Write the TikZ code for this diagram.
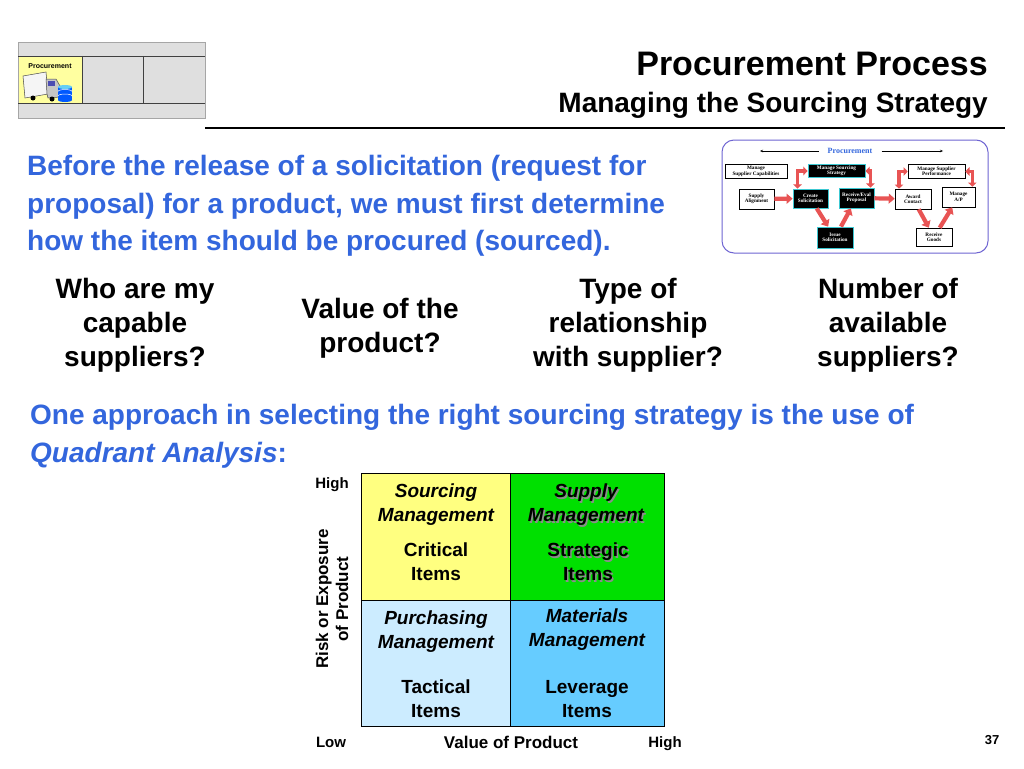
\documentclass[tikz,border=0pt]{standalone}
\usepackage{fontspec}
\setmainfont{Liberation Sans}
\newfontfamily\seriffont{Liberation Serif}
\usetikzlibrary{arrows.meta}
\definecolor{tblue}{RGB}{51,102,221}
\definecolor{qyellow}{RGB}{255,255,128}
\definecolor{qgreen}{RGB}{0,224,0}
\definecolor{qlblue}{RGB}{204,236,255}
\definecolor{qblue}{RGB}{102,204,255}
\definecolor{logoyellow}{RGB}{255,255,160}
\definecolor{frameblue}{RGB}{110,100,210}
\definecolor{arrred}{RGB}{232,84,84}
\definecolor{boxcyan}{RGB}{60,200,210}
\newcommand\fsz[2]{\fontsize{#1}{#2}\selectfont}
\tikzset{
  ptext/.style={anchor=base west, text=tblue, font=\bfseries\fsz{28}{34}, inner sep=0},
  qtext/.style={font=\bfseries\fsz{28}{34}, align=center, inner sep=0},
  quad/.style={draw=black, line width=1.2, minimum width=149, minimum height=127, inner sep=0, anchor=north west},
  qt/.style={font=\bfseries\fsz{19}{24}, align=center, inner sep=0},
  qti/.style={font=\bfseries\itshape\fsz{19}{24}, align=center, inner sep=0},
  shad/.style={text=black!45},
  axl/.style={font=\bfseries\fsz{15}{18}, inner sep=0, anchor=base},
  wbox/.style={draw=black, fill=white, line width=0.6, font=\seriffont\bfseries\fsz{5.2}{5.4}, align=center, inner sep=0.4},
  bbox/.style={draw=boxcyan, fill=black, text=white, line width=0.8, font=\seriffont\bfseries\fsz{5.2}{5.4}, align=center, inner sep=0.4},
  redarrow/.style={draw=arrred, line width=4.2, -{Triangle[width=10,length=6]}},
  relbow/.style={draw=arrred, line width=3.4, {Triangle[width=8.5,length=4.2]}-{Triangle[width=8.5,length=4.2]}},
}
\begin{document}
\begin{tikzpicture}[x=1pt,y=-1pt]
\useasboundingbox[fill=white] (0,0) rectangle (1024,768);

% ---------- logo ----------
\fill[gray!25] (18,42) rectangle (205,118);
\draw[gray!70, line width=0.8] (18,42) rectangle (205,118);
\fill[logoyellow] (19,56) rectangle (82,103);
\draw[black!75, line width=0.8] (18,56) -- (205,56) (18,103) -- (205,103) (82,56) -- (82,103) (143,56) -- (143,103);
\node[font=\bfseries\fsz{7}{8}, inner sep=0] (logot) at (50,66) {Procurement};
% truck
\draw[fill=gray!8, draw=gray!60!black, line width=0.5] (23,76) -- (46,72) -- (48,94) -- (25,98) -- cycle;
\draw[fill=gray!45, draw=gray!60!black, line width=0.5] (46,79) -- (56,79) -- (60,86) -- (60,97) -- (48,98) -- (47,94) -- cycle;
\fill[blue!40!gray] (48,81) rectangle (55,86);
\fill[black] (33,98) circle (2.5) (52,99) circle (2.5);
% database
\fill[blue!65!cyan] (58,87) rectangle (72,100);
\fill[blue!65!cyan] (65,100) ellipse (7 and 2);
\draw[white, line width=0.5] (58,91.5) arc (180:360:7 and 2) (58,96) arc (180:360:7 and 2);
\fill[cyan!60] (65,87) ellipse (7 and 2);

% ---------- title ----------
\node[anchor=base east, font=\bfseries\fsz{34}{40}, inner sep=0] (t1) at (988,75) {Procurement Process};
\node[anchor=base east, font=\bfseries\fsz{28}{34}, inner sep=0] (t2) at (988,112) {Managing the Sourcing Strategy};
\draw[line width=1.3] (205,128) -- (1005,128);

% ---------- paragraph ----------
\node[ptext] (p1) at (27,175) {Before the release of a solicitation (request for};
\node[ptext] (p2) at (27,213) {proposal) for a product, we must first determine};
\node[ptext] (p3) at (27,250) {how the item should be procured (sourced).};

% ---------- questions ----------
\node[qtext] (q1) at (135,325) {Who are my\\capable\\suppliers?};
\node[qtext] (q2) at (380,328) {Value of the\\product?};
\node[qtext] (q3) at (628,325) {Type of\\relationship\\with supplier?};
\node[qtext] (q4) at (888,325) {Number of\\available\\suppliers?};

\node[ptext] (o1) at (30,424) {One approach in selecting the right sourcing strategy is the use of};
\node[ptext] (o2) at (30,462) {{\itshape Quadrant Analysis}:};

% ---------- quadrant ----------
\node[quad, fill=qyellow] (tl) at (361,473) {};
\node[quad, fill=qgreen, minimum width=154] (tr) at (510,473) {};
\node[quad, fill=qlblue, minimum height=126] (bl) at (361,600) {};
\node[quad, fill=qblue, minimum width=154, minimum height=126] (br) at (510,600) {};

\node[qti] (tlh) at (436,505) {Sourcing\\Management};
\node[qt] (tli) at (436,562) {Critical\\Items};
\node[qti, shad] (trhs) at (587.5,506.5) {Supply\\Management};
\node[qti] (trh) at (586,505) {Supply\\Management};
\node[qt, shad] (tris) at (589.5,563.5) {Strategic\\Items};
\node[qt] (tri) at (588,562) {Strategic\\Items};
\node[qti] (blh) at (436,632) {Purchasing\\Management};
\node[qt] (bli) at (436,699) {Tactical\\Items};
\node[qti] (brh) at (587,630) {Materials\\Management};
\node[qt] (bri) at (587,699) {Leverage\\Items};

\node[axl] (hi1) at (332,488) {High};
\node[axl] (lo) at (331,747) {Low};
\node[axl, font=\bfseries\fsz{17}{20}] (vp) at (511,748) {Value of Product};
\node[axl] (hi2) at (665,747) {High};
\node[font=\bfseries\fsz{17}{20}, inner sep=0, align=center, rotate=90] (risk) at (332,599) {Risk or Exposure\\of Product};

\node[font=\bfseries\fsz{13}{15}, inner sep=0] (pg) at (992,740) {37};

% ---------- mini procurement diagram ----------
\draw[frameblue, line width=1, rounded corners=12] (722,140) rectangle (988,253);
\node[font=\seriffont\bfseries\fsz{8}{9}, text=tblue, inner sep=1] (ph) at (850,151) {Procurement};
\coordinate (pl) at (760,151);
\coordinate (pr) at (943,151);
\draw[line width=0.5, -{Stealth[length=3,width=2.5]}] ([xshift=-8]ph.west) -- (pl);
\draw[line width=0.5, -{Stealth[length=3,width=2.5]}] ([xshift=8]ph.east) -- (pr);

\node[wbox, minimum width=62, minimum height=14] (msc) at (756,171.5) {Manage\\Supplier Capabilities};
\node[bbox, minimum width=57, minimum height=13] (mss) at (836.5,171) {Manage Sourcing\\Strategy};
\node[wbox, minimum width=57, minimum height=14] (msp) at (936.5,171.5) {Manage Supplier\\Performance};
\node[wbox, minimum width=35, minimum height=20] (sa) at (756.5,199) {Supply\\Alignment};
\node[bbox, minimum width=35, minimum height=19] (cs) at (810.5,198.5) {Create\\Solicitation};
\node[bbox, minimum width=35, minimum height=20] (re) at (856.5,198) {Receive/Eval\\Proposal};
\node[wbox, minimum width=36, minimum height=20] (ac) at (913,199) {Award\\Contact};
\node[wbox, minimum width=33, minimum height=20] (ma) at (958.5,197) {Manage\\A/P};
\node[bbox, minimum width=36, minimum height=21] (is) at (835,237.5) {Issue\\Solicitation};
\node[wbox, minimum width=36, minimum height=18] (rg) at (934,237) {Receive\\Goods};

\draw[redarrow] (sa) -- (cs);
\draw[redarrow] (cs) -- (is);
\draw[redarrow] (is) -- (re);
\draw[redarrow] (re) -- (ac);
\draw[redarrow] (ac) -- (rg);
\draw[redarrow] (rg) -- (ma);
\draw[relbow] ([xshift=-13]cs.north) |- (mss.west);
\draw[relbow] (mss.east) -| ([xshift=-4]re.north east);
\draw[relbow] ([xshift=-14]ac.north) |- (msp.west);
\draw[relbow] (msp.east) -| ([xshift=-3]ma.north east);
\end{tikzpicture}
\end{document}
